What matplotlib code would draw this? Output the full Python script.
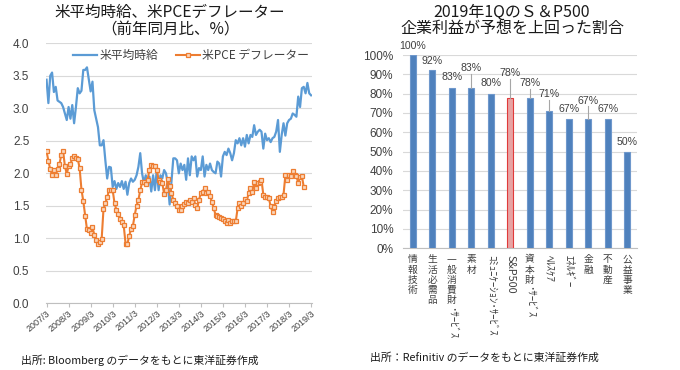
import matplotlib
matplotlib.use("Agg")
import matplotlib.pyplot as plt
import numpy as np

plt.rcParams['font.family'] = ['Noto Sans CJK JP', 'DejaVu Sans']

# ---------------- data: left chart (monthly, from 2007/3) ----------------
wage_yoy = [
    3.44, 3.08, 3.50, 3.55, 3.25, 3.33, 3.12, 3.10, 3.08, 3.02,
    2.92, 2.82, 3.02, 2.84, 3.05, 2.77, 3.02, 3.31, 3.23, 3.27,
    3.59, 3.59, 3.63, 3.44, 3.26, 3.41, 2.97, 2.84, 2.71, 2.43,
    2.43, 2.51, 2.20, 1.92, 2.10, 2.09, 1.79, 1.88, 1.76, 1.85,
    1.79, 1.88, 1.76, 1.87, 1.67, 1.85,
    1.92, 1.87, 1.90, 1.97, 2.10, 2.31, 2.00, 1.85, 1.97, 1.87,
    1.95, 1.72, 1.97, 1.74, 2.05, 1.74, 1.97, 1.92, 2.05, 2.00,
    1.85, 1.52, 1.87, 2.23, 2.23, 2.20, 2.00, 2.15, 2.05, 2.13,
    1.90, 2.23, 1.97, 2.26, 2.20, 2.26, 1.95, 2.08, 2.05, 2.26,
    1.95, 2.13, 2.05,
    2.15, 2.05, 2.02, 2.00, 2.18, 2.15, 1.95, 2.26, 2.33, 2.28,
    2.38, 2.31, 2.20, 2.31, 2.51, 2.46, 2.54, 2.43, 2.54, 2.41,
    2.59, 2.46, 2.59, 2.56, 2.74, 2.59, 2.64, 2.67, 2.64, 2.38,
    2.61, 2.51, 2.54, 2.48, 2.54, 2.56, 2.64, 2.82, 2.33, 2.59,
    2.77, 2.58, 2.77, 2.82, 2.84, 2.92, 2.90, 2.87, 3.18, 3.02,
    3.31, 3.33, 3.23, 3.39, 3.23, 3.20,
]
pce_yoy = [
    2.34, 2.19, 2.06, 1.98, 2.05, 1.97, 2.06, 2.14, 2.28, 2.34,
    2.11, 1.99, 2.11, 2.14, 2.23, 2.26, 2.23, 2.22, 2.08, 1.75,
    1.57, 1.35, 1.14, 1.13, 1.08, 1.17, 1.05, 0.97, 0.92, 0.95,
    0.99, 1.45, 1.54, 1.63, 1.74, 1.74, 1.74, 1.54, 1.44, 1.37,
    1.30, 1.25, 1.20, 0.92, 0.91,
    1.04, 1.14, 1.19, 1.36, 1.50, 1.59, 1.74, 1.86, 1.87, 1.84,
    1.90, 2.05, 2.13, 2.11, 2.11, 2.05, 1.90, 1.87, 1.85, 1.68,
    1.74, 1.91, 1.81, 1.70, 1.59, 1.55, 1.49, 1.43, 1.44, 1.50,
    1.53, 1.56, 1.54, 1.59, 1.56, 1.62, 1.51, 1.46, 1.59, 1.70,
    1.72, 1.77, 1.69, 1.71, 1.65, 1.56, 1.46, 1.36, 1.34, 1.33,
    1.31, 1.29, 1.27, 1.23, 1.28, 1.24, 1.26, 1.26, 1.26, 1.46,
    1.55, 1.49, 1.55, 1.60, 1.58, 1.69, 1.78, 1.72, 1.86, 1.78,
    1.85, 1.87, 1.90, 1.67, 1.63, 1.64, 1.62, 1.49, 1.41, 1.48,
    1.58, 1.62, 1.63, 1.64, 1.67, 1.97, 1.90, 1.97, 1.96, 2.03,
    1.97, 1.96, 1.85, 1.95, 1.96, 1.79,
]
left_ticklabels = ['2007/3', '2008/3', '2009/3', '2010/3', '2011/3', '2012/3', '2013/3',
                   '2014/3', '2015/3', '2016/3', '2017/3', '2018/3', '2019/3']
wage_name = '米平均時給'
pce_name = '米PCE デフレーター'

# ---------------- data: right chart ----------------
sectors = ['情報技術', '生活必需品', '一般消費財･ｻｰﾋﾞｽ', '素材', 'ｺﾐｭﾆｹｰｼｮﾝ･ｻｰﾋﾞｽ', 'S&P500',
           '資本財･ｻｰﾋﾞｽ', 'ﾍﾙｽｹｱ', 'ｴﾈﾙｷﾞｰ', '金融', '不動産', '公益事業']
beat_pct = [100, 92, 83, 83, 80, 78, 78, 71, 67, 67, 67, 50]
highlight = 'S&P500'

# label placement (style): label center offset above bar top, in %
label_offset = [4.7, 5.1, 5.8, 10.1, 5.7, 12.5, 7.3, 8.7, 4.9, 9.2, 4.9, 5.2]

# ---------------- figure ----------------
W, H, DPI = 680, 370, 100
fig = plt.figure(figsize=(W / DPI, H / DPI), dpi=DPI)

def frac(x0, y0, x1, y1):
    return [x0 / W, 1 - y1 / H, (x1 - x0) / W, (y1 - y0) / H]

txt_col = '#404040'
grid_col = '#D9D9D9'
num_font = ['Liberation Sans', 'DejaVu Sans']

# ===== left chart =====
ax = fig.add_axes(frac(46, 43.3, 312, 303.3))
xw = np.arange(len(wage_yoy))
xp = np.arange(len(pce_yoy))
ax.plot(xw, wage_yoy, color='#5B9BD5', lw=1.6, label=wage_name, zorder=3)
ax.plot(xp, pce_yoy, color='#ED7D31', lw=1.5, marker='s', markersize=3.3,
        markerfacecolor='#FAD7BC', markeredgecolor='#ED7D31', markeredgewidth=0.9,
        label=pce_name, zorder=4)
ax.set_ylim(0, 4.0)
ax.set_xlim(-0.3, 144.5)
ax.set_yticks(np.arange(0, 4.01, 0.5))
ax.set_yticklabels([f'{v:.1f}' for v in np.arange(0, 4.01, 0.5)], fontsize=8.5,
                   family=num_font, color=txt_col)
ax.set_xticks(np.arange(0, 145, 12))
ax.set_xticklabels(left_ticklabels, rotation=40, ha='right', rotation_mode='anchor',
                   fontsize=6.5, family=num_font, color=txt_col)
ax.tick_params(axis='y', length=0, pad=12)
ax.tick_params(axis='x', length=3, color='#BFBFBF', pad=1)
ax.grid(axis='y', color=grid_col, lw=0.8)
ax.set_axisbelow(True)
for s in ['left', 'right', 'top']:
    ax.spines[s].set_visible(False)
ax.spines['bottom'].set_color('#BFBFBF')
leg = ax.legend(loc='upper right', bbox_to_anchor=(1.01, 1.0), ncol=2, frameon=False,
                fontsize=8.5, handlelength=2.0, handletextpad=0.2, columnspacing=1.5,
                borderaxespad=0.1)
for t in leg.get_texts():
    t.set_color(txt_col)

fig.text(170 / W, 1 - 12 / H, '米平均時給、米PCEデフレーター', ha='center', va='center',
         fontsize=11.2, color='#1a1a1a')
fig.text(170 / W, 1 - 30 / H, '（前年同月比、%）', ha='center', va='center',
         fontsize=11.2, color='#1a1a1a')
fig.text(21 / W, 1 - 360 / H, '出所: Bloomberg のデータをもとに東洋証券作成', ha='left',
         va='center', fontsize=7.8, color='#1a1a1a')

# ===== right chart =====
ax2 = fig.add_axes(frac(403, 55, 637, 248.3))
xs = np.arange(len(sectors))
cols = ['#E8A3A3' if s == highlight else '#4F81BD' for s in sectors]
ecols = ['#E03A3A' if s == highlight else '#6F98CC' for s in sectors]
ax2.bar(xs, beat_pct, width=0.32, color=cols, edgecolor=ecols, linewidth=0.8, zorder=3)
ax2.set_ylim(0, 100)
ax2.set_xlim(-0.5, 11.5)
ax2.set_yticks(np.arange(0, 101, 10))
ax2.set_yticklabels([f'{v}%' for v in range(0, 101, 10)], fontsize=8.5,
                    family=num_font, color=txt_col)
ax2.tick_params(axis='y', length=0, pad=7)
ax2.set_xticks([])
ax2.grid(axis='y', color=grid_col, lw=0.8)
ax2.set_axisbelow(True)
for s in ['left', 'right', 'top']:
    ax2.spines[s].set_visible(False)
ax2.spines['bottom'].set_color('#BFBFBF')

for i, (v, off) in enumerate(zip(beat_pct, label_offset)):
    ax2.text(i, v + off, f'{v}%', ha='center', va='center', fontsize=7.6,
             family=num_font, color=txt_col, zorder=5)
    if off > 6:
        ax2.plot([i, i], [v, v + off - 2.8], color='#A6A6A6', lw=0.8, zorder=4,
                 clip_on=False)

fig.text(512 / W, 1 - 12.5 / H, '2019年1QのＳ＆P500', ha='center', va='center',
         fontsize=11.5, color='#1a1a1a')
fig.text(512 / W, 1 - 28.5 / H, '企業利益が予想を上回った割合', ha='center', va='center',
         fontsize=11.5, color='#1a1a1a')
fig.text(370 / W, 1 - 358 / H, '出所：Refinitiv のデータをもとに東洋証券作成', ha='left',
         va='center', fontsize=7.8, color='#1a1a1a')

# vertical (tategaki) category labels
fig.canvas.draw()
renderer = fig.canvas.get_renderer()
px2pt = 72.0 / DPI
fs_full = 7.0
fs_half = 7.8
step_full = 10.3

def is_full(ch):
    o = ord(ch)
    return o >= 0x2E80 and not (0xFF61 <= o <= 0xFF9F)

for i, lab in enumerate(sectors):
    runs = []
    for ch in lab:
        kind = is_full(ch)
        if runs and runs[-1][0] == kind:
            runs[-1][1] += ch
        else:
            runs.append([kind, ch])
    offset = 6.0
    for kind, s in runs:
        if kind:
            for ch in s:
                ax2.annotate(ch, xy=(i, 0), xycoords=('data', 'axes fraction'),
                             xytext=(0, -offset * px2pt), textcoords='offset points',
                             ha='center', va='top', fontsize=fs_full, color=txt_col,
                             annotation_clip=False)
                offset += step_full
        else:
            t = ax2.annotate(s, xy=(i, 0), xycoords=('data', 'axes fraction'),
                             xytext=(0, -(offset + 1) * px2pt), textcoords='offset points',
                             ha='center', va='top', rotation=-90, fontsize=fs_half,
                             color=txt_col, annotation_clip=False)
            bb = t.get_window_extent(renderer)
            offset += bb.height + 1.5

fig.savefig('out.png', dpi=DPI)
